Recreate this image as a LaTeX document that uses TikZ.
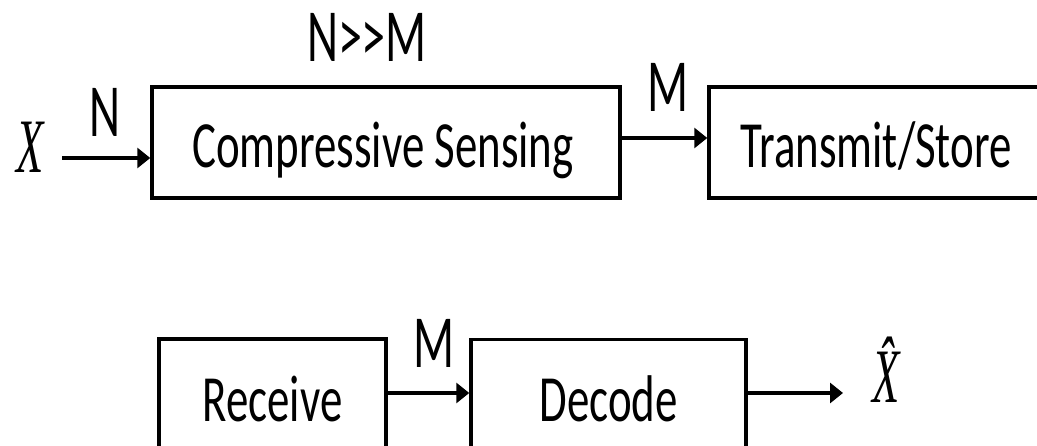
\documentclass[tikz,border=0pt]{standalone}
\usepackage{fontspec}
\setmainfont{Carlito}
\newfontfamily\boxfont[FakeStretch=0.68]{Carlito}
\newfontfamily\labfont[FakeStretch=0.64]{Carlito}
\newfontfamily\sigfont{Liberation Serif}
\usetikzlibrary{arrows.meta}
\tikzset{
  blockbox/.style={draw, line width=3.5pt, inner sep=0pt, minimum height=111pt},
  boxtext/.style={anchor=base, inner sep=0pt, font=\boxfont\fontsize{66}{70}\selectfont},
  lab/.style={anchor=base, inner sep=0pt, font=\labfont\fontsize{75}{80}\selectfont},
  sig/.style={anchor=base, inner sep=0pt, font=\sigfont\itshape\fontsize{77}{80}\selectfont},
  arr/.style={line width=4.5pt, -{Triangle[length=13pt,width=20pt]}}
}
\begin{document}
\begin{tikzpicture}[x=1pt, y=-1pt]
  \useasboundingbox (0,0) rectangle (1037,446);
  \clip (0,0) rectangle (1037,446);

  % upper chain: sensing and transmission
  \node[blockbox, minimum width=468pt] (cs) at (386,142.5) {};
  \node[blockbox, minimum width=334pt] (ts) at (876,142.5) {};
  \node[boxtext] (cst) at (383,168) {Compressive Sensing};
  \node[boxtext] (tst) at (876,168) {Transmit/Store};

  \node[sig] (x) at (30,173) {\scalebox{0.58}[1]{X}};
  \coordinate (xin) at (62,158);
  \coordinate (mrow) at (0,138);
  \draw[arr] (xin) -- (xin -| cs.west);
  \draw[arr] (cs.east |- mrow) -- (ts.west |- mrow);

  \node[lab] (nm) at (367,62) {N>>M};
  \node[lab] (nl) at (105,137) {N};
  \node[lab] (ml) at (668,112) {M};

  % lower chain: reception and decoding
  \node[blockbox, minimum width=227pt, minimum height=112pt] (rx) at (272.5,395) {};
  \node[blockbox, minimum width=275pt, minimum height=112pt] (dec) at (608.5,395.5) {};
  \node[boxtext] (rxt) at (272.5,422) {Receive};
  \node[boxtext] (dect) at (608.5,422) {Decode};

  \coordinate (brow) at (0,393);
  \coordinate (xout) at (843,393);
  \draw[arr] (rx.east |- brow) -- (dec.west |- brow);
  \draw[arr] (dec.east |- xout) -- (xout);

  \node[lab] (ml2) at (434,368) {M};
  \node[sig] (xh) at (886,403) {\scalebox{0.58}[1]{\^{X}}};
\end{tikzpicture}
\end{document}
